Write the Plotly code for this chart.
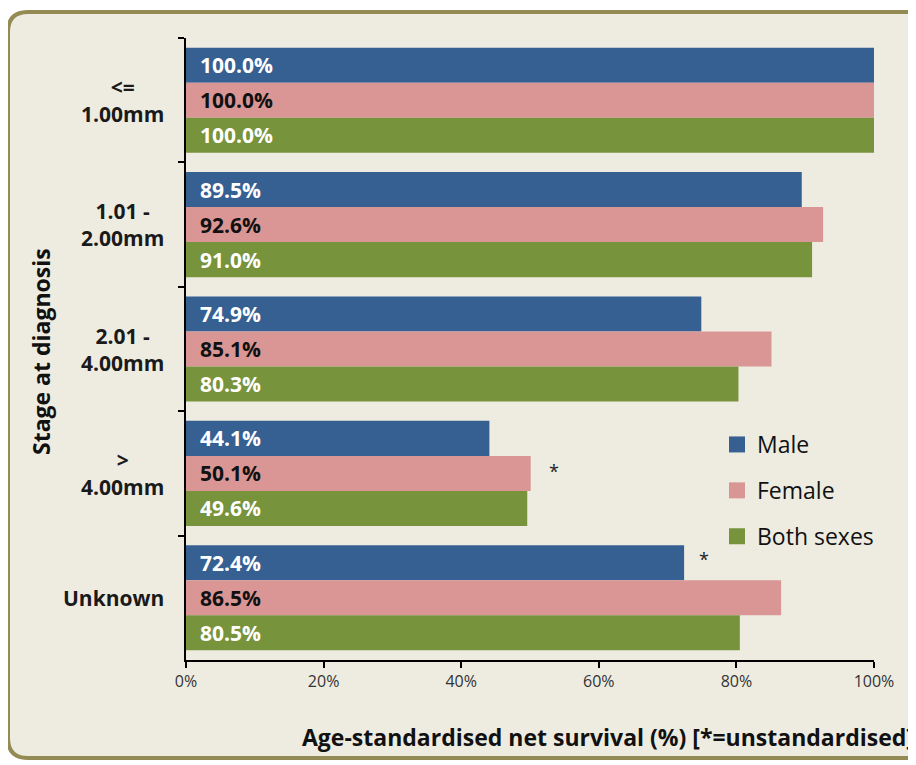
import plotly.graph_objects as go

categories = ["<=<br>1.00mm", "1.01 -<br>2.00mm", "2.01 -<br>4.00mm", "><br>4.00mm", "Unknown"]
male = [100.0, 89.5, 74.9, 44.1, 72.4]
female = [100.0, 92.6, 85.1, 50.1, 86.5]
both = [100.0, 91.0, 80.3, 49.6, 80.5]
x_ticks = [0, 20, 40, 60, 80, 100]
x_tick_labels = ["0%", "20%", "40%", "60%", "80%", "100%"]
# asterisks (unstandardised): (series, category index)
starred = [("Female", 3), ("Male", 4)]

# page body adds an 8px offset; work in reference pixel coordinates
OFF = 8
W, H = 916 - OFF, 765 - OFF
L, R, T, B = 186 - OFF, 42, 38 - OFF, 105
PW, PH = W - L - R, H - T - B

def px(x):
    return (x - OFF - L) / PW

def py(y):
    return (H - B - (y - OFF)) / PH

BLUE, PINK, GREEN = "#366092", "#DA9694", "#77933C"
BG = "#EEECE1"
FONT = "Open Sans"

fig = go.Figure()
series = [("Male", male, BLUE, "white"), ("Female", female, PINK, "#111111"), ("Both sexes", both, GREEN, "white")]
for name, vals, col, tcol in series:
    fig.add_trace(go.Bar(
        y=categories, x=vals, name=name, orientation="h",
        marker=dict(color=col, line=dict(width=0)),
        text=[f"\u00a0\u00a0{v:.1f}%" for v in vals],
        textposition="inside", insidetextanchor="start",
        textfont=dict(family=FONT, size=21, color=tcol, weight="bold"),
        showlegend=False, hoverinfo="skip",
    ))
# legend entries with larger square swatches
for name, vals, col, tcol in series:
    fig.add_trace(go.Scatter(
        x=[None], y=[None], mode="markers", name=name,
        marker=dict(symbol="square", size=16, color=col), legendgroup=name,
    ))

# category labels as centred multi-line annotations
for c in categories:
    fig.add_annotation(x=px(166), xref="paper", y=c, yref="y", text=c, showarrow=False,
                       xanchor="right", align="center",
                       font=dict(family=FONT, size=21, color="#1a1a1a", weight="bold"))

lookup = {"Male": (male, 39, 20), "Female": (female, 2, 23), "Both sexes": (both, -33, 20)}
for s, i in starred:
    vals, ys, xs = lookup[s]
    fig.add_annotation(x=vals[i], y=categories[i], xref="x", yref="y", text="*", showarrow=False,
                       xanchor="center", xshift=xs, yshift=ys,
                       font=dict(family=FONT, size=18, color="#222222"))

fig.add_annotation(x=px(41), y=py(352), xref="paper", yref="paper", text="Stage at diagnosis",
                   textangle=-90, showarrow=False, xanchor="center", yanchor="middle",
                   font=dict(family=FONT, size=23, color="#111111", weight="bold"))
fig.add_annotation(x=px(300), y=py(737), xref="paper", yref="paper",
                   text="Age-standardised net survival (%) [*=unstandardised]",
                   showarrow=False, xanchor="left", yanchor="middle",
                   font=dict(family=FONT, size=23, color="#111111", weight="bold"))

# rounded frame
x0, y0, x1, y1, r = 8, 12, 940, 758, 20
path = (f"M {px(x0+r)},{py(y0)} L {px(x1-r)},{py(y0)} Q {px(x1)},{py(y0)} {px(x1)},{py(y0+r)} "
        f"L {px(x1)},{py(y1-r)} Q {px(x1)},{py(y1)} {px(x1-r)},{py(y1)} "
        f"L {px(x0+r)},{py(y1)} Q {px(x0)},{py(y1)} {px(x0)},{py(y1-r)} "
        f"L {px(x0)},{py(y0+r)} Q {px(x0)},{py(y0)} {px(x0+r)},{py(y0)} Z")
fig.add_shape(type="path", path=path, xref="paper", yref="paper", layer="below",
              fillcolor=BG, line=dict(color="#948A54", width=4))

fig.update_layout(
    width=W, height=H, margin=dict(l=L, r=R, t=T, b=B, autoexpand=False),
    paper_bgcolor="white", plot_bgcolor=BG,
    barmode="group", bargap=0.155, bargroupgap=0.0,
    showlegend=True,
    legend=dict(x=px(717), y=py(423), xanchor="left", yanchor="top", bgcolor="rgba(0,0,0,0)",
                font=dict(family=FONT, size=23, color="#111111"), tracegroupgap=13,
                itemwidth=30),
    font=dict(family=FONT),
)
fig.update_xaxes(range=[0, 100], tickvals=x_ticks, ticktext=x_tick_labels, showgrid=False,
                 zeroline=False, showline=True, linecolor="black", linewidth=2,
                 ticks="outside", ticklen=6, tickwidth=2, tickcolor="black",
                 tickfont=dict(family=FONT, size=16, color="#333333"), fixedrange=True)
fig.update_yaxes(autorange="reversed", showgrid=False, zeroline=False, showline=True,
                 linecolor="black", linewidth=2, ticks="outside", ticklen=6, tickwidth=2,
                 tickcolor="black", tickson="boundaries", showticklabels=False, fixedrange=True)

fig.write_html("out.html")
